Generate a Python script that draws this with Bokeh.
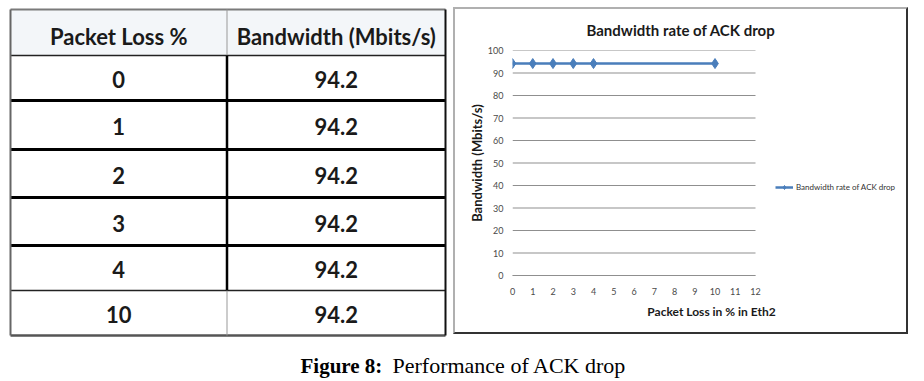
from bokeh.plotting import figure
from bokeh.layouts import row, column
from bokeh.models import Range1d, Legend, LegendItem, FixedTicker, ColumnDataSource, Spacer
from bokeh.core.properties import value
from bokeh.embed import file_html
from bokeh.resources import INLINE

# ---------------- data ----------------
packet_loss = [0, 1, 2, 3, 4, 10]
bandwidth = [94.2, 94.2, 94.2, 94.2, 94.2, 94.2]
table_headers = ["Packet Loss %", "Bandwidth (Mbits/s)"]
y_ticks = [0, 10, 20, 30, 40, 50, 60, 70, 80, 90, 100]
x_ticks = [0, 1, 2, 3, 4, 5, 6, 7, 8, 9, 10, 11, 12]
chart_title = "Bandwidth rate of ACK drop"
series_name = "Bandwidth rate of ACK drop"
x_title = "Packet Loss in % in Eth2"
y_title = "Bandwidth (Mbits/s)"
caption_bold = "Figure 8:"
caption_text = "Performance  of ACK drop"

# ---------------- layout (pixels) ----------------
TW, TH = 453, 337
row_edges = [9, 55, 100, 149, 197, 245, 290, 335]
col_edges = [10, 226.5, 445]
FONT = value("Lato")
HEADER_DY = 4
CELL_DY = 1.5

# ---------------- table ----------------
t = figure(width=TW, height=TH, x_range=Range1d(0, TW), y_range=Range1d(TH, 0),
           output_backend="svg", toolbar_location=None,
           x_axis_location=None, y_axis_location=None,
           min_border=0, outline_line_color=None)
t.frame_align = False
t.grid.visible = False
t.background_fill_color = "white"
t.border_fill_color = "white"

xl, xm, xr = col_edges
t.quad(left=[xl], right=[xr], top=[row_edges[0]], bottom=[row_edges[1]],
       fill_color="#f3f6f9", line_color=None)

h_styles = [("#7a7a7a", 2), ("#222222", 1.5), ("#000000", 3), ("#000000", 3),
            ("#000000", 3), ("#000000", 3), ("#222222", 1.5), ("#555555", 2.5)]
for yv, (c, w) in zip(row_edges, h_styles):
    t.segment(x0=[xl], x1=[xr], y0=[yv], y1=[yv], line_color=c, line_width=w)
t.segment(x0=[xl], x1=[xl], y0=[row_edges[0]], y1=[row_edges[-1]], line_color="#666666", line_width=2)
t.segment(x0=[xr], x1=[xr], y0=[row_edges[0]], y1=[row_edges[-1]], line_color="#111111", line_width=2)
t.segment(x0=[xm], x1=[xm], y0=[row_edges[0]], y1=[row_edges[1]], line_color="#999999", line_width=1)
t.segment(x0=[xm], x1=[xm], y0=[row_edges[1]], y1=[row_edges[6]], line_color="#000000", line_width=2.5)
t.segment(x0=[xm], x1=[xm], y0=[row_edges[6]], y1=[row_edges[7]], line_color="#999999", line_width=1)

c1 = (xl + xm) / 2
c2 = (xm + xr) / 2
centers = [(row_edges[i] + row_edges[i + 1]) / 2 for i in range(len(row_edges) - 1)]
cell_y = [c + CELL_DY for c in centers[1:]]
t.text(x=[c1, c2], y=[centers[0] + HEADER_DY] * 2, text=table_headers,
       text_align="center", text_baseline="middle", text_font=FONT,
       text_font_style="bold", text_font_size="22px", text_color="#1a1a1a")
t.text(x=[c1] * len(packet_loss), y=cell_y, text=[str(v) for v in packet_loss],
       text_align="center", text_baseline="middle", text_font=FONT,
       text_font_style="bold", text_font_size="22px", text_color="#1a1a1a")
t.text(x=[c2] * len(bandwidth), y=cell_y, text=[str(v) for v in bandwidth],
       text_align="center", text_baseline="middle", text_font=FONT,
       text_font_style="bold", text_font_size="22px", text_color="#1a1a1a")

# ---------------- chart ----------------
CW, CH = 455, 327          # host size incl. the 2px CSS border
ML, MT, MB = 57, 41, 61
FRAME_W = CW - ML
UNIT_PX = 243 / 12          # plot area 0..12 spans 243 px
x_end = FRAME_W / UNIT_PX   # frame continues right of 12 to hold the legend

p = figure(width=CW, height=CH, x_range=Range1d(0, x_end), y_range=Range1d(0, 100),
           output_backend="svg", toolbar_location=None,
           min_border_left=ML, min_border_right=0, min_border_top=MT, min_border_bottom=MB,
           outline_line_color=None, title=chart_title)
p.frame_align = False
p.styles = {"border-style": "solid", "border-width": "2px",
            "border-color": "#b0b0b0 #333333 #333333 #b0b0b0"}
p.title.text_font = "Lato"
p.title.text_font_size = "15px"
p.title.text_font_style = "bold"
p.title.text_color = "#1a1a1a"
p.title.align = "left"
p.title.offset = 74
p.title.standoff = 20
p.title.vertical_align = "top"

p.grid.visible = False
# horizontal gridlines over the 0..12 plot area
p.segment(x0=[x_ticks[0]] * len(y_ticks), x1=[x_ticks[-1]] * len(y_ticks),
          y0=y_ticks, y1=y_ticks, line_color="#8f8f8f", line_width=1)

p.yaxis.ticker = FixedTicker(ticks=y_ticks)
p.xaxis.ticker = FixedTicker(ticks=x_ticks)
p.xaxis.bounds = (x_ticks[0], x_ticks[-1])
for ax in (p.xaxis, p.yaxis):
    ax.major_tick_line_color = None
    ax.minor_tick_line_color = None
    ax.major_tick_out = 0
    ax.major_tick_in = 0
    ax.minor_tick_out = 0
    ax.major_label_text_font = "Lato"
    ax.major_label_text_font_size = "9px"
    ax.major_label_text_color = "#4a4a4a"
    ax.axis_label_text_font = "Lato"
    ax.axis_label_text_font_style = "bold"
    ax.axis_label_text_color = "#1a1a1a"
p.xaxis.axis_label_text_font_size = "12px"
p.yaxis.axis_label_text_font_size = "13px"
p.yaxis.axis_line_color = None
p.xaxis.axis_line_color = "#8f8f8f"
p.yaxis.major_label_standoff = 9
p.xaxis.major_label_standoff = 12
p.yaxis.axis_label = y_title
p.xaxis.axis_label = x_title
p.yaxis.axis_label_standoff = 0
p.xaxis.axis_label_standoff = 6

src = ColumnDataSource(dict(x=packet_loss, y=bandwidth))
ln = p.line("x", "y", source=src, line_color="#4a7ebb", line_width=2.5)
mk = p.scatter("x", "y", source=src, marker="diamond", size=10,
               fill_color="#4a7ebb", line_color="#4a7ebb")

legend = Legend(items=[LegendItem(label=series_name, renderers=[ln, mk])],
                location=(263, 83), border_line_color=None, background_fill_alpha=0,
                padding=0, margin=0, spacing=0, label_standoff=3,
                glyph_width=18, glyph_height=10,
                label_text_font="Lato", label_text_font_size="8px",
                label_text_color="#333333", label_height=10)
p.add_layout(legend, "center")

chart_col = column(Spacer(height=7), p)

# ---------------- caption ----------------
FW, FH = 920, 44
cap = figure(width=FW, height=FH, x_range=Range1d(0, FW), y_range=Range1d(FH, 0),
             output_backend="svg", toolbar_location=None,
             x_axis_location=None, y_axis_location=None,
             min_border=0, outline_line_color=None)
cap.frame_align = False
cap.grid.visible = False
cap.text(x=[300], y=[28], text=[caption_bold], text_align="left", text_baseline="middle",
         text_font=value("Liberation Serif"), text_font_style="bold",
         text_font_size="21px", text_color="#000000")
cap.text(x=[392], y=[28], text=[caption_text], text_align="left", text_baseline="middle",
         text_font=value("Liberation Serif"), text_font_style="normal",
         text_font_size="22px", text_color="#000000")

layout = column(row(t, chart_col), cap)
open("out.html", "w").write(file_html(layout, INLINE))
